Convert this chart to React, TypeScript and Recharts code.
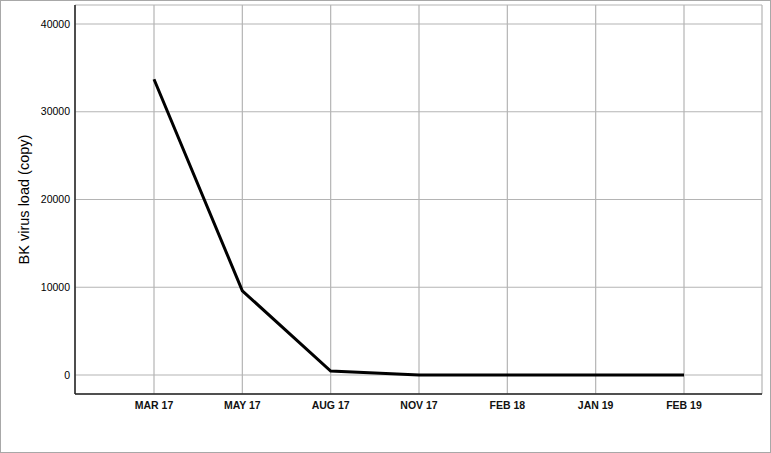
import { LineChart, Line, XAxis, YAxis, CartesianGrid } from 'recharts';

const months = ['MAR 17', 'MAY 17', 'AUG 17', 'NOV 17', 'FEB 18', 'JAN 19', 'FEB 19'];
const viralLoad = [33700, 9600, 450, 0, 0, 0, 0];
const yTicks = [0, 10000, 20000, 30000, 40000];

const data = months.map((m, i) => ({ month: m, load: viralLoad[i] }));

// rotated axis title, centred on the y axis viewBox
function YTitle(props: any) {
    const { viewBox } = props;
    const x = viewBox.x + 23;
    const y = viewBox.y + viewBox.height / 2;
    return (
        <text
            x={x}
            y={y}
            transform={`rotate(-90 ${x} ${y})`}
            textAnchor="middle"
            dominantBaseline="central"
            fontSize={14.5}
            fill="#000"
            fontFamily="Liberation Sans, Arial, sans-serif"
        >
            BK virus load (copy)
        </text>
    );
}

export default function App() {
    return (
        <div
            style={{
                position: 'absolute',
                top: 0,
                left: 0,
                width: 771,
                height: 453,
                boxSizing: 'border-box',
                border: '1px solid #a8a8a8',
                background: '#fff',
                fontFamily: 'Liberation Sans, Arial, sans-serif',
            }}
        >
            <LineChart width={769} height={451} data={data} margin={{ top: 4, right: 8, left: 0, bottom: 0 }}>
                <CartesianGrid stroke="#b4b4b4" strokeWidth={1.2} />
                <XAxis
                    dataKey="month"
                    height={58}
                    padding={{ left: 79, right: 78 }}
                    tickLine={false}
                    tickSize={0}
                    tickMargin={8}
                    axisLine={{ stroke: '#222', strokeWidth: 1.5 }}
                    tick={{ fontSize: 10.5, fontWeight: 'bold', fill: '#111' }}
                    interval={0}
                />
                <YAxis
                    width={74}
                    domain={[-2165, 42165]}
                    ticks={yTicks}
                    tickLine={false}
                    tickSize={0}
                    tickMargin={5}
                    axisLine={{ stroke: '#222', strokeWidth: 1.5 }}
                    tick={{ fontSize: 10.5, fill: '#000' }}
                    label={<YTitle />}
                />
                <Line
                    type="linear"
                    dataKey="load"
                    stroke="#000"
                    strokeWidth={3}
                    dot={false}
                    isAnimationActive={false}
                />
            </LineChart>
        </div>
    );
}
